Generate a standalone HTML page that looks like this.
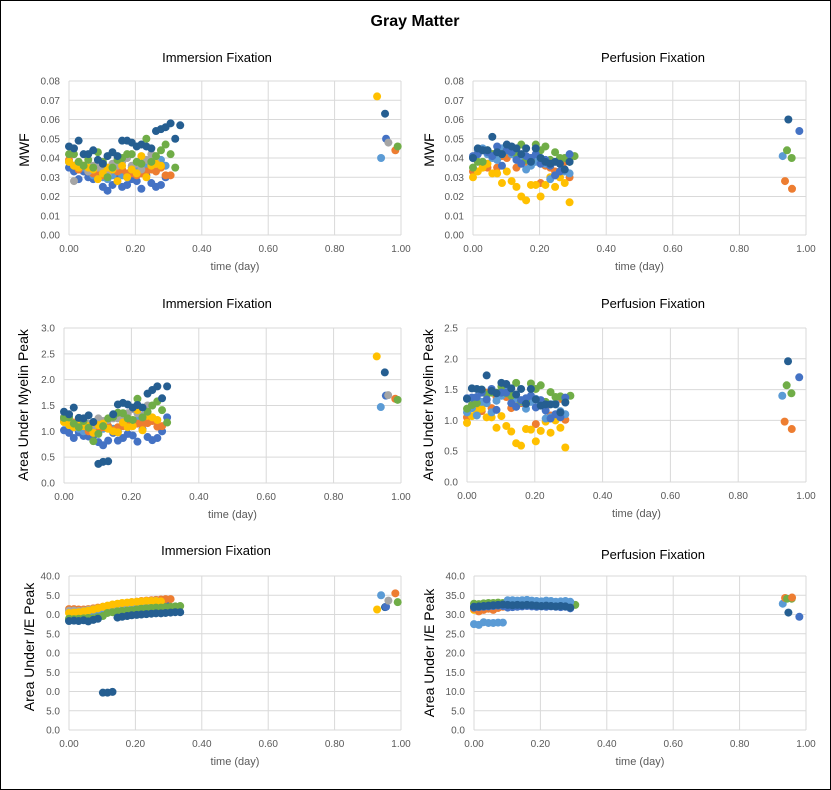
<!DOCTYPE html>
<html><head><meta charset="utf-8"><style>
body{margin:0;background:#fff}
svg{display:block;font-family:"Liberation Sans",sans-serif}
</style></head><body>
<svg id="chart" width="831" height="790">
<rect x="0.5" y="0.5" width="830" height="789" fill="#fff" stroke="#000"/>
<text x="415" y="26" text-anchor="middle" font-size="16" font-weight="bold">Gray Matter</text>
</svg>
<script>
const xImm=[0,0.015,0.029,0.044,0.058,0.073,0.087,0.102,0.116,0.131,0.146,0.160,0.175,0.189,0.204,0.218,0.233,0.248,0.262,0.277,0.291,0.306,0.320,0.335];
const xPer=[0,0.0145,0.029,0.0435,0.058,0.0725,0.087,0.1015,0.116,0.1305,0.145,0.1595,0.174,0.1885,0.203,0.2175,0.232,0.2465,0.261,0.2755,0.29,0.305];
const seriesNames=["darkblue","blue","lightblue","orange","gray","yellow","green"];
const seriesColors={darkblue:"#255E91",blue:"#4472C4",lightblue:"#5B9BD5",orange:"#ED7D31",gray:"#A5A5A5",yellow:"#FFC000",green:"#70AD47"};

const immMwf={
 blue:[.035,.033,.029,.033,.030,.029,.030,.025,.023,.026,.030,.025,.026,.029,.028,.024,.031,.027,.025,.026,.030],
 lightblue:[.038,.036,.034,.035,.033,.031,.032,.030,.029,.031,.033,.031,.030,.035,.034,.033,.036,.036,.038,.039,.036],
 orange:[.039,.036,.034,.036,.033,.032,.033,.031,.032,.034,.033,.034,.032,.032,.031,.032,.033,.034,.033,.035,.031,.031],
 gray:[.038,.028,.035,.036,.033,.036,.035,.034,.031,.037,.036,.038,.040,.036,.037,.034,.039,.042,.038],
 yellow:[.038,.036,.035,.036,.035,.034,.029,.032,.035,.034,.028,.036,.030,.034,.032,.041,.030,.036,.037,.036],
 green:[.042,.042,.038,.036,.039,.035,.043,.038,.030,.035,.039,.040,.042,.042,.038,.037,.050,.038,.041,.044,.047,.042,.035],
 darkblue:[.046,.045,.049,.042,.042,.044,.039,.037,.041,.043,.041,.049,.049,.048,.046,.047,.046,.045,.054,.055,.056,.058,.050,.057]
};
const immMwfLateSeries=["yellow","lightblue","darkblue","blue","gray","orange","green"];
const immMwfLateX=[0.928,0.94,0.952,0.955,0.962,0.983,0.99];
const immMwfLateY=[0.072,0.040,0.063,0.050,0.048,0.044,0.046];

const immArea={
 blue:[1.02,.97,.87,.98,.91,.90,.91,.79,.73,.82,.97,.82,.87,.95,.92,.80,1.04,.89,.83,.87,1.00,1.27],
 lightblue:[1.20,1.15,1.10,1.05,1.00,1.02,0.98,1.00,1.05,1.10,1.05,1.00,1.12,1.15,1.20,1.22,1.25,1.28],
 orange:[1.25,1.20,1.17,1.15,1.10,1.00,1.05,1.03,1.08,1.10,1.02,1.08,1.10,1.12,1.13,1.15,1.13,1.16,1.20,1.09,1.10],
 gray:[1.28,1.20,1.15,1.10,1.12,1.15,1.10,1.25,1.20,1.22,1.25,1.25,1.30,1.35,1.43,1.35,1.30,1.50],
 yellow:[1.18,1.12,1.08,1.13,1.10,1.10,0.97,1.12,1.15,1.05,1.00,0.98,1.17,1.08,1.10,1.41,1.02,1.30,1.27,1.22],
 green:[1.26,1.27,1.15,1.08,1.20,1.07,0.81,0.95,1.10,1.25,1.28,1.36,1.35,1.25,1.22,1.63,1.27,1.38,1.50,1.58,1.41,1.17],
 darkblue:[1.38,1.33,1.46,1.26,1.25,1.31,1.18,0.37,0.41,0.42,1.33,1.52,1.55,1.52,1.46,1.51,1.46,1.73,1.80,1.87,1.64,1.87]
};
const immAreaLateY=[2.45,1.47,2.14,1.69,1.70,1.63,1.61];

const immIE={
 blue:[28.6,28.9,29.2,29.5,29.9,30.3,30.8,31.2,31.5,31.8,32.0,32.2,32.4,32.6,32.8,32.9,33.0,33.1,33.2,33.2,33.3],
 lightblue:[28.8,29.1,29.4,29.7,30.0,30.4,30.8,31.2,31.6,31.9,32.1,32.3,32.5,32.7,32.9,33.0,33.1,33.2,33.3,33.4],
 orange:[31.4,31.4,31.3,31.3,31.4,31.6,31.8,32.0,32.2,32.4,32.6,32.8,33.0,33.2,33.3,33.5,33.6,33.7,33.8,33.9,34.0,34.0],
 gray:[31.0,31.0,30.9,31.0,31.2,31.4,31.6,31.9,32.1,32.3,32.5,32.7,32.9,33.0,33.2,33.3,33.4,33.5,33.6],
 yellow:[30.4,30.5,30.6,30.8,31.0,31.3,31.6,32.0,32.3,32.6,32.8,33.0,33.1,33.2,33.3,33.4,33.5,33.5,33.5,33.4],
 green:[28.9,28.8,28.9,29.0,29.1,29.0,29.3,29.6,30.4,30.6,30.8,30.9,31.0,31.1,31.3,31.5,31.6,31.7,31.8,31.8,31.9,32.0,32.1,32.2],
 darkblue:[28.3,28.4,28.3,28.5,28.2,28.6,28.9,9.7,9.7,9.9,29.2,29.4,29.6,29.8,29.9,30.0,30.1,30.2,30.3,30.3,30.4,30.5,30.6,30.6]
};
const immIELateY=[31.3,35.0,31.9,32.0,33.6,35.5,33.2];

const perMwf={
 orange:[.033,.043,.035,.035,.042,.035,.041,.040,.043,.035,.041,.038,.040,.039,.027,.036,.035,.033,.030,.038,.030],
 yellow:[.030,.033,.035,.037,.032,.032,.027,.033,.028,.025,.020,.018,.026,.026,.020,.026,.030,.025,.030,.027,.017],
 lightblue:[.040,.044,.045,.042,.040,.039,.045,.044,.042,.040,.038,.034,.036,.038,.040,.037,.029,.031,.033,.033,.032],
 green:[.035,.038,.038,.044,.042,.043,.042,.044,.043,.042,.047,.039,.039,.047,.044,.046,.039,.043,.040,.040,.038,.041],
 blue:[.041,.042,.044,.043,.041,.046,.036,.044,.043,.039,.037,.041,.040,.042,.037,.039,.036,.031,.033,.034,.042],
 darkblue:[.040,.045,.044,.044,.051,.043,.042,.047,.046,.045,.042,.045,.038,.045,.040,.038,.037,.038,.037,.034,.038]
};
const perLateSeries=["lightblue","orange","green","darkblue","green","orange","blue"];
const perLateX=[0.93,0.937,0.943,0.947,0.957,0.958,0.98];
const perMwfLateY=[0.041,0.028,0.044,0.060,0.040,0.024,0.054];

const perArea={
 orange:[1.05,1.20,1.18,1.15,1.45,1.20,1.38,1.42,1.38,1.20,1.25,1.28,1.30,1.32,0.94,1.30,1.22,1.08,1.05,1.35,1.01],
 yellow:[0.96,1.07,1.15,1.19,1.05,1.05,0.88,1.07,0.91,0.82,0.63,0.59,0.86,0.85,0.66,0.83,0.98,0.80,1.00,0.88,0.56],
 lightblue:[1.13,1.20,1.08,1.30,1.28,1.13,1.32,1.40,1.48,1.40,1.35,1.30,1.19,1.30,1.35,1.28,1.03,1.05,1.28,1.15,1.10],
 green:[1.19,1.25,1.28,1.50,1.42,1.45,1.45,1.55,1.44,1.40,1.61,1.31,1.32,1.60,1.51,1.57,1.30,1.46,1.38,1.39,1.30,1.40],
 blue:[1.36,1.37,1.38,1.45,1.34,1.51,1.17,1.45,1.45,1.28,1.22,1.33,1.36,1.40,1.21,1.33,1.16,1.03,1.10,1.05,1.37],
 darkblue:[1.35,1.52,1.51,1.50,1.73,1.48,1.44,1.61,1.59,1.52,1.42,1.51,1.27,1.51,1.34,1.24,1.26,1.26,1.26,1.13,1.29]
};
const perAreaLateY=[1.40,0.98,1.57,1.96,1.44,0.86,1.70];

const perIE={
 yellow:[31.2,31.4,31.5,31.7,31.9,32.0,32.1,32.3,32.4,32.5,32.6,32.6,32.6,32.5,32.4,32.4,32.3,32.3,32.2,32.2,32.1],
 orange:[31.5,30.8,31.2,31.5,31.2,31.7,32.0,32.6,32.8,32.9,33.0,33.0,33.1,33.0,33.0,32.9,32.8,32.7,32.6,32.7,32.8],
 green:[32.8,32.7,32.9,33.0,33.0,33.1,33.0,32.8,32.9,33.0,33.1,33.2,33.1,33.2,33.1,33.0,33.0,32.9,32.8,32.7,32.6,32.5],
 lightblue:[27.5,27.3,28.0,27.8,27.8,27.9,27.9,33.7,33.7,33.6,33.7,33.8,33.6,33.5,33.4,33.6,33.5,33.3,33.4,33.5,33.3],
 blue:[31.8,31.9,32.0,32.1,32.2,32.3,32.2,31.8,31.9,32.0,32.1,32.2,32.1,32.0,32.1,32.0,32.1,32.0,31.9,32.0,31.6],
 darkblue:[32.0,32.1,32.2,32.3,32.4,32.5,32.6,32.5,32.4,32.5,32.4,32.5,32.4,32.3,32.2,32.3,32.2,32.1,32.2,32.1,31.8]
};
const perIELateY=[32.8,34.3,34.1,30.5,34.1,34.4,29.4];

const xTicks=["0.00","0.20","0.40","0.60","0.80","1.00"];
const mwfTicks=["0.00","0.01","0.02","0.03","0.04","0.05","0.06","0.07","0.08"];
const areaImmTicks=["0.0","0.5","1.0","1.5","2.0","2.5","3.0"];
const areaPerTicks=["0.0","0.5","1.0","1.5","2.0","2.5"];
const ieImmTicks=["0.0","5.0","0.0","5.0","0.0","5.0","0.0","5.0","40.0"];
const ieTicks=["0.0","5.0","10.0","15.0","20.0","25.0","30.0","35.0","40.0"];

const NS="http://www.w3.org/2000/svg";
const svg=document.getElementById("chart");
function el(tag,attrs,parent){const e=document.createElementNS(NS,tag);for(const k in attrs)e.setAttribute(k,attrs[k]);(parent||svg).appendChild(e);return e;}

function panel(p){
  const g=el("g",{});
  
  
  const sx=v=>p.x0+(p.x1-p.x0)*v;
  const sy=v=>p.yb-(p.yb-p.yt)*(v/p.ymax);
  for(let i=0;i<p.yTicks.length;i++){
    const yy=p.yb-(p.yb-p.yt)*i/(p.yTicks.length-1);
    const l=el("line",{x1:p.x0,x2:p.x1,y1:yy,y2:yy,stroke:"#D9D9D9","stroke-width":1},g);
    
    
    const t=el("text",{x:p.x0-9,y:yy+3.5,"text-anchor":"end","font-size":10,fill:"#595959"},g);
    t.textContent=p.yTicks[i];
    
    
  }
  for(let i=0;i<xTicks.length;i++){
    const xx=sx(i/(xTicks.length-1));
    const l=el("line",{x1:xx,x2:xx,y1:p.yt,y2:p.yb,stroke:"#D9D9D9","stroke-width":1},g);
    
    
    const t=el("text",{x:xx,y:p.yb+17,"text-anchor":"middle","font-size":10,fill:"#595959"},g);
    t.textContent=xTicks[i];
    
    
  }
  const tt=el("text",{x:p.tx,y:p.ty,"text-anchor":"middle","font-size":13,fill:"#000"},g);
  tt.textContent=p.title;
  
  
  const xt=el("text",{x:(p.x0+p.x1)/2,y:p.yb+35,"text-anchor":"middle","font-size":11,fill:"#595959"},g);
  xt.textContent="time (day)";
  
  
  const yt=el("text",{x:0,y:0,"text-anchor":"middle","font-size":14,fill:"#000",transform:`translate(${p.yx},${p.yc}) rotate(-90)`},g);
  yt.textContent=p.ytitle;
  
  
  for(const s in p.data){
    const arr=p.data[s];
    for(let i=0;i<arr.length;i++){
      const c=el("circle",{cx:sx(p.xs[i]),cy:sy(arr[i]),r:4,fill:seriesColors[s]},g);
      
      
    }
  }
  for(let i=0;i<p.lateY.length;i++){
    const c=el("circle",{cx:sx(p.lateX[i]),cy:sy(p.lateY[i]),r:4,fill:seriesColors[p.lateS[i]]},g);
    
    
  }
}

panel({name:"immersion-mwf-chart",x0:69,x1:401,yt:81,yb:235,ymax:0.08,yTicks:mwfTicks,data:immMwf,xs:xImm,lateS:immMwfLateSeries,lateX:immMwfLateX,lateY:immMwfLateY,title:"Immersion Fixation",tx:217,ty:62,ytitle:"MWF",yx:29,yc:150});
panel({name:"perfusion-mwf-chart",x0:473,x1:806,yt:81,yb:235,ymax:0.08,yTicks:mwfTicks,data:perMwf,xs:xPer,lateS:perLateSeries,lateX:perLateX,lateY:perMwfLateY,title:"Perfusion Fixation",tx:653,ty:62,ytitle:"MWF",yx:434,yc:150});
panel({name:"immersion-myelin-chart",x0:64,x1:401,yt:328,yb:483,ymax:3.0,yTicks:areaImmTicks,data:immArea,xs:xImm,lateS:immMwfLateSeries,lateX:immMwfLateX,lateY:immAreaLateY,title:"Immersion Fixation",tx:217,ty:308,ytitle:"Area Under Myelin Peak",yx:28,yc:405});
panel({name:"perfusion-myelin-chart",x0:467,x1:806,yt:328,yb:482,ymax:2.5,yTicks:areaPerTicks,data:perArea,xs:xPer,lateS:perLateSeries,lateX:perLateX,lateY:perAreaLateY,title:"Perfusion Fixation",tx:653,ty:308,ytitle:"Area Under Myelin Peak",yx:433,yc:405});
panel({name:"immersion-ie-chart",x0:69,x1:401,yt:576,yb:730,ymax:40,yTicks:ieImmTicks,data:immIE,xs:xImm,lateS:immMwfLateSeries,lateX:immMwfLateX,lateY:immIELateY,title:"Immersion Fixation",tx:216,ty:555,ytitle:"Area Under I/E Peak",yx:34,yc:647});
panel({name:"perfusion-ie-chart",x0:474,x1:806,yt:576,yb:730,ymax:40,yTicks:ieTicks,data:perIE,xs:xPer,lateS:perLateSeries,lateX:perLateX,lateY:perIELateY,title:"Perfusion Fixation",tx:653,ty:559,ytitle:"Area Under I/E Peak",yx:434,yc:653});
</script>
</body></html>
